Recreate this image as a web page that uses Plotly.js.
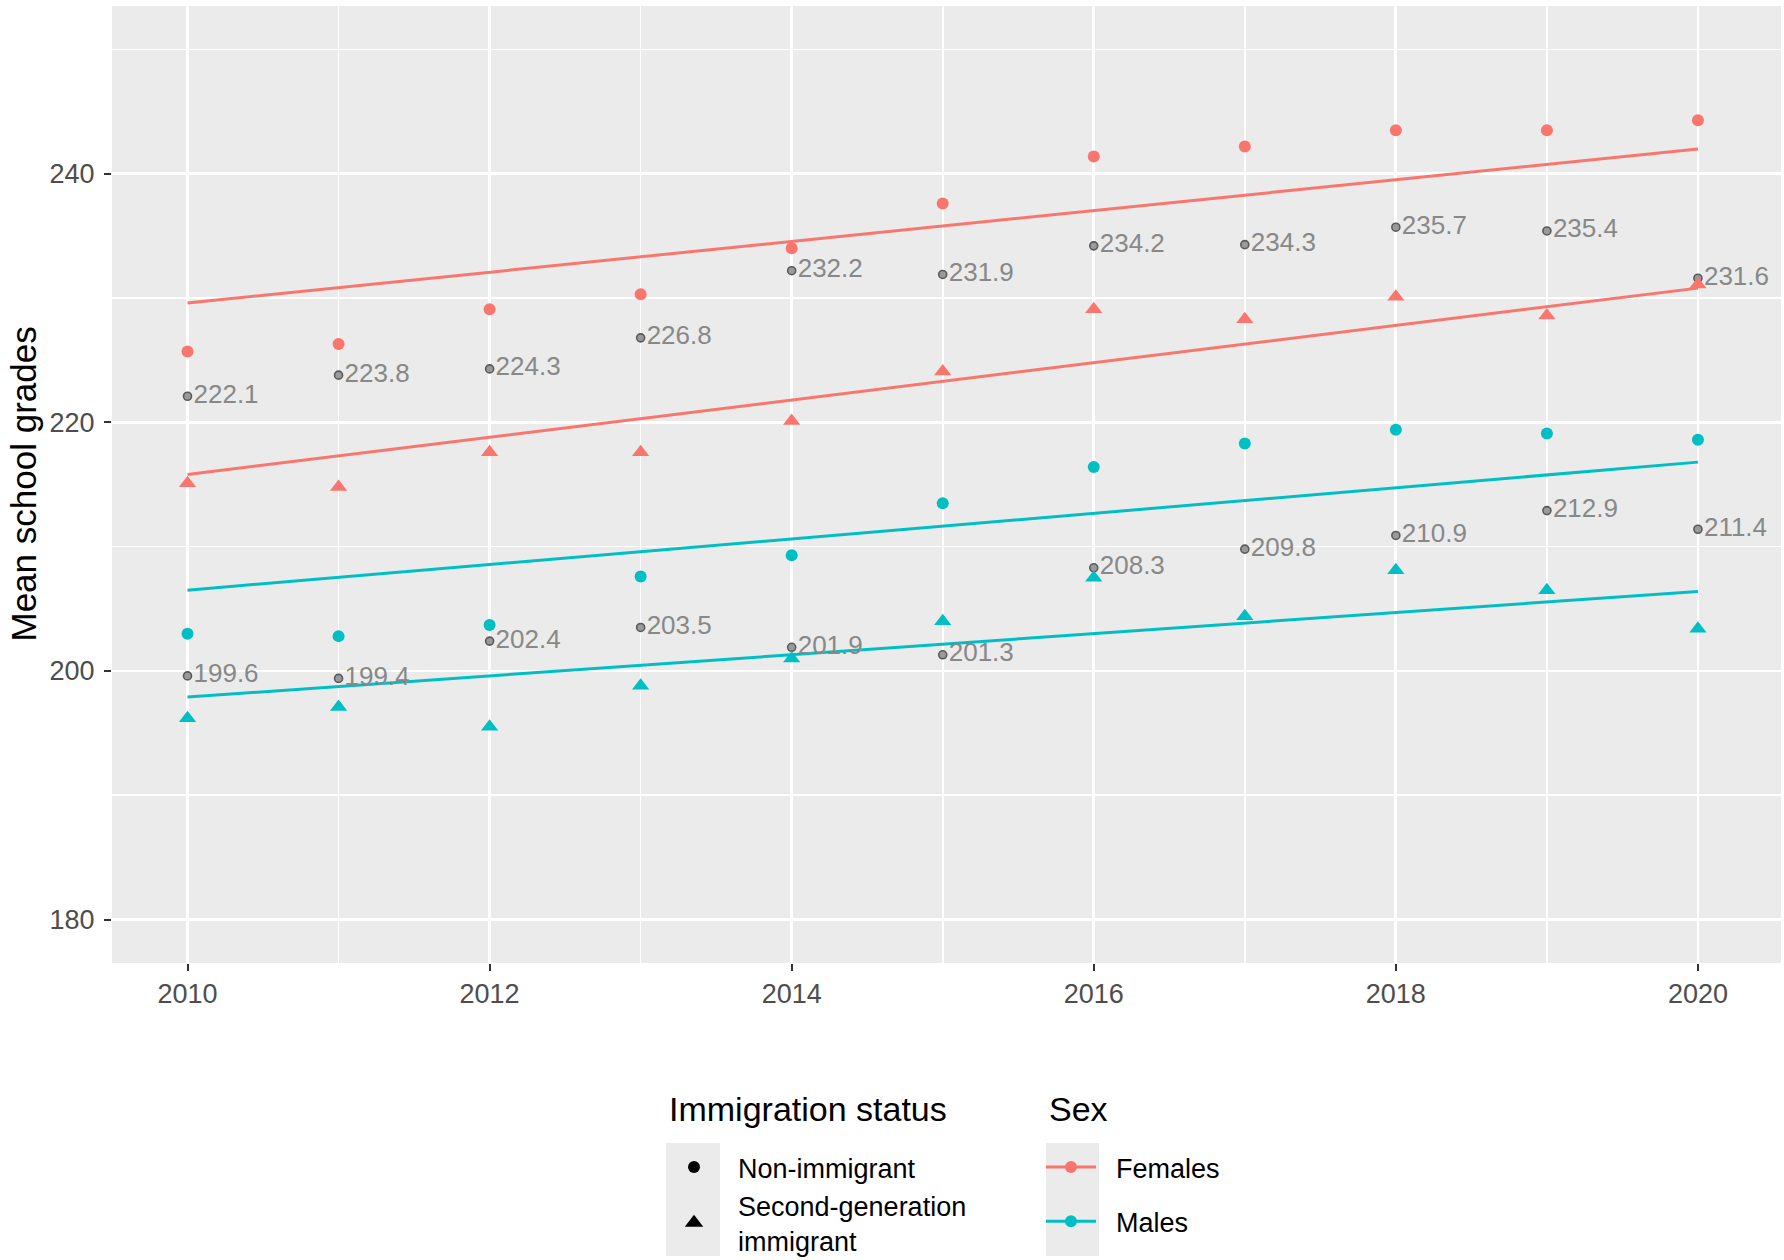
<!DOCTYPE html>
<html>
<head>
<meta charset="utf-8">
<script src="https://cdn.plot.ly/plotly-3.0.1.min.js"></script>
<style>
  body { margin: 0; background: #fff; }
  #plot { width: 1784px; height: 1260px; }
</style>
</head>
<body>
<div id="plot"></div>
<script>
const years = [2010, 2011, 2012, 2013, 2014, 2015, 2016, 2017, 2018, 2019, 2020];

// coloured points: sex x immigration status
const femalesNonImmigrant = [225.7, 226.3, 229.1, 230.3, 234.0, 237.6, 241.4, 242.2, 243.5, 243.5, 244.3];
const femalesSecondGen = [215.1, 214.8, 217.6, 217.6, 220.1, 224.1, 229.1, 228.3, 230.1, 228.6, 231.1];
const malesNonImmigrant = [203.0, 202.8, 203.7, 207.6, 209.3, 213.5, 216.4, 218.3, 219.4, 219.1, 218.6];
const malesSecondGen = [196.2, 197.1, 195.5, 198.8, 201.0, 204.0, 207.5, 204.4, 208.1, 206.5, 203.4];

// grey labelled points
const greyUpper = [222.1, 223.8, 224.3, 226.8, 232.2, 231.9, 234.2, 234.3, 235.7, 235.4, 231.6];
const greyLower = [199.6, 199.4, 202.4, 203.5, 201.9, 201.3, 208.3, 209.8, 210.9, 212.9, 211.4];

// fitted trend lines (values at first and last year)
const fitYears = [2010, 2020];
const femalesNonFit = [229.6, 242.0];
const femalesSecondFit = [215.8, 230.8];
const malesNonFit = [206.5, 216.8];
const malesSecondFit = [197.9, 206.4];

const yTicks = [180, 200, 220, 240];
const xTicks = [2010, 2012, 2014, 2016, 2018, 2020];

const RED = '#F8766D';
const TEAL = '#00BFC4';
const FONT = 'Liberation Sans, Arial, sans-serif';
const KEY_BG = '#EBEBEB';

function fitLine(y, color) {
  return {
    x: fitYears, y, mode: 'lines', type: 'scatter',
    line: { color, width: 3 }, showlegend: false, hoverinfo: 'skip',
  };
}

function points(y, color, symbol, size) {
  return {
    x: years, y, mode: 'markers', type: 'scatter',
    marker: { color, symbol, size, line: { width: 0 } },
    showlegend: false,
  };
}

function greyPoints(y) {
  return {
    x: years, y, mode: 'markers+text', type: 'scatter',
    text: y.map(v => v.toFixed(1)),
    textposition: 'middle right',
    textfont: { family: FONT, size: 26, color: '#888888' },
    marker: { color: '#9a9a9a', size: 8, line: { color: '#5a5a5a', width: 1.6 } },
    showlegend: false,
  };
}

const NB = '\u00a0\u00a0';

const data = [
  fitLine(femalesNonFit, RED),
  fitLine(femalesSecondFit, RED),
  fitLine(malesNonFit, TEAL),
  fitLine(malesSecondFit, TEAL),
  greyPoints(greyUpper),
  greyPoints(greyLower),
  points(femalesNonImmigrant, RED, 'circle', 12),
  points(femalesSecondGen, RED, 'triangle-up', 15),
  points(malesNonImmigrant, TEAL, 'circle', 12),
  points(malesSecondGen, TEAL, 'triangle-up', 15),
  // legend-only entries
  { x: [null], y: [null], mode: 'markers', type: 'scatter', name: 'Non-immigrant',
    marker: { color: '#000', symbol: 'circle', size: 12 }, legend: 'legend' },
  { x: [null], y: [null], mode: 'markers', type: 'scatter', name: 'Second-generation<br>immigrant',
    marker: { color: '#000', symbol: 'triangle-up', size: 16 }, legend: 'legend' },
  { x: [null], y: [null], mode: 'lines+markers', type: 'scatter', name: NB + 'Females',
    marker: { color: RED, size: 12 }, line: { color: RED, width: 3 },
    legend: 'legend2', legendgroup: 'f' },
  { x: [null], y: [null], mode: 'lines+markers', type: 'scatter', name: NB + 'Males',
    marker: { color: TEAL, size: 12 }, line: { color: TEAL, width: 3 },
    legend: 'legend2', legendgroup: 'm' },
];

const legendBase = {
  orientation: 'v', xanchor: 'left', yanchor: 'top',
  bgcolor: 'rgba(0,0,0,0)', font: { family: FONT, size: 27, color: '#000' },
};

// plot area in px: top 6, bottom 963, left 112, right 1781
const PT = 6, PB = 963, PL = 112, PR = 1781;
const px = v => (v - PL) / (PR - PL);
const py = v => (PB - v) / (PB - PT);

const layout = {
  width: 1784, height: 1260,
  margin: { l: PL, r: 1784 - PR, t: PT, b: 1260 - PB, autoexpand: false },
  paper_bgcolor: '#fff',
  plot_bgcolor: '#EBEBEB',
  font: { family: FONT, color: '#000' },
  xaxis: {
    range: [2009.5, 2020.55], tickvals: xTicks, ticktext: xTicks.map(String),
    showgrid: true, gridcolor: '#fff', gridwidth: 2.7, zeroline: false,
    ticks: 'outside', ticklen: 7, tickwidth: 2, tickcolor: '#333',
    tickfont: { family: FONT, size: 27, color: '#4D4D4D' },
    minor: { dtick: 1, tick0: 2010, showgrid: true, gridcolor: '#fff', gridwidth: 1.6, ticks: '' },
    showline: false, automargin: false,
  },
  yaxis: {
    range: [176.5, 253.5], tickvals: yTicks, ticktext: yTicks.map(String),
    showgrid: true, gridcolor: '#fff', gridwidth: 2.7, zeroline: false,
    ticks: 'outside', ticklen: 7, tickwidth: 2, tickcolor: '#333', ticklabelstandoff: 4,
    tickfont: { family: FONT, size: 27, color: '#4D4D4D' },
    minor: { dtick: 10, tick0: 180, showgrid: true, gridcolor: '#fff', gridwidth: 1.6, ticks: '' },
    showline: false, automargin: false,
  },
  legend: Object.assign({}, legendBase, {
    x: px(650), y: py(1143), itemwidth: 78, tracegroupgap: 0,
  }),
  legend2: Object.assign({}, legendBase, {
    x: px(1041), y: py(1143), itemwidth: 50, tracegroupgap: 16,
  }),
  annotations: [
    { text: 'Mean school grades', xref: 'paper', yref: 'paper', x: px(23), y: 0.5,
      xanchor: 'center', yanchor: 'middle', textangle: -90, showarrow: false,
      font: { family: FONT, size: 35, color: '#000' } },
    { text: 'Immigration status', xref: 'paper', yref: 'paper', x: px(667), y: py(1109),
      xanchor: 'left', yanchor: 'middle', showarrow: false,
      font: { family: FONT, size: 34, color: '#000' } },
    { text: 'Sex', xref: 'paper', yref: 'paper', x: px(1047), y: py(1109),
      xanchor: 'left', yanchor: 'middle', showarrow: false,
      font: { family: FONT, size: 34, color: '#000' } },
  ],
  shapes: [
    { type: 'rect', xref: 'paper', yref: 'paper', x0: px(666), x1: px(720), y0: py(1143), y1: py(1256),
      fillcolor: KEY_BG, line: { width: 0 }, layer: 'below' },
    { type: 'rect', xref: 'paper', yref: 'paper', x0: px(1046), x1: px(1099), y0: py(1143), y1: py(1256),
      fillcolor: KEY_BG, line: { width: 0 }, layer: 'below' },
  ],
  showlegend: true,
};

Plotly.newPlot('plot', data, layout, { displayModeBar: false, staticPlot: true });
</script>
</body>
</html>
